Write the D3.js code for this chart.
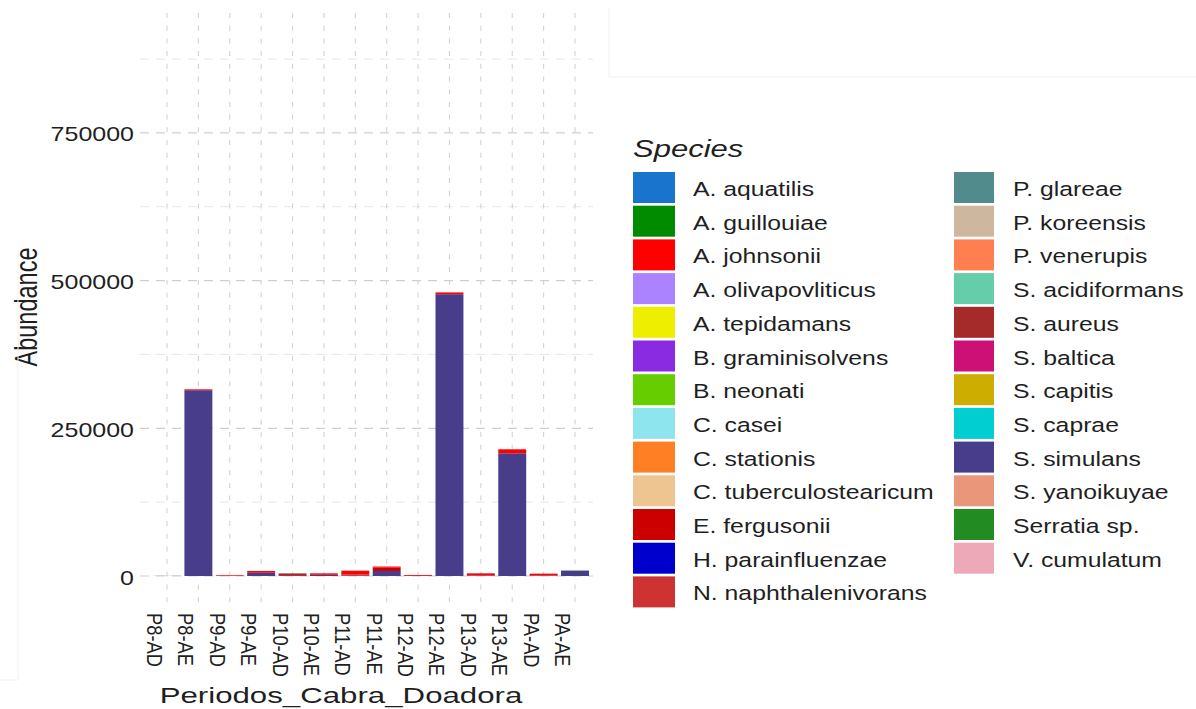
<!DOCTYPE html>
<html>
<head>
<meta charset="utf-8">
<script src="https://cdn.jsdelivr.net/npm/d3@7"></script>
<style>
  body { margin: 0; background: #fff; }
  text { font-family: "Liberation Sans", Arial, Helvetica, sans-serif; fill: #1f1f1f; }
</style>
</head>
<body>
<div id="chart"></div>
<script>
// categories on the x axis
const periods = ['P8-AD', 'P8-AE', 'P9-AD', 'P9-AE', 'P10-AD', 'P10-AE', 'P11-AD',
                 'P11-AE', 'P12-AD', 'P12-AE', 'P13-AD', 'P13-AE', 'PA-AD', 'PA-AE'];

// legend order (ggplot puts the first level on top of each stack)
const species = ['A. aquatilis', 'A. guillouiae', 'A. johnsonii', 'A. olivapovliticus',
  'A. tepidamans', 'B. graminisolvens', 'B. neonati', 'C. casei', 'C. stationis',
  'C. tuberculostearicum', 'E. fergusonii', 'H. parainfluenzae', 'N. naphthalenivorans',
  'P. glareae', 'P. koreensis', 'P. venerupis', 'S. acidiformans', 'S. aureus',
  'S. baltica', 'S. capitis', 'S. caprae', 'S. simulans', 'S. yanoikuyae',
  'Serratia sp.', 'V. cumulatum'];

const speciesColors = ['#1874CD', '#008B00', '#FF0000', '#AB82FF', '#EEEE00', '#8A2BE2',
  '#66CD00', '#8EE5EE', '#FF7F24', '#EEC591', '#CD0000', '#0000CD', '#CD3333',
  '#528B8B', '#CDB79E', '#FF7F50', '#66CDAA', '#A52A2A', '#CD1076', '#CDAD00',
  '#00CED1', '#483D8B', '#E9967A', '#228B22', '#EEA9B8'];

// abundances (species not listed are ~0)
const simulans    = [200, 314500, 0, 5500, 1500, 2000, 1000, 8500, 0, 477000, 1000, 207700, 1000, 8800];
const johnsonii   = [0, 1500, 1200, 3000, 2500, 2500, 6500, 2000, 1500, 3000, 3500, 6800, 3000, 0];
const fergusonii  = [0, 0, 0, 0, 0, 0, 1500, 5500, 0, 0, 0, 0, 0, 0];
const guillouiae  = [0, 0, 0, 0, 600, 0, 0, 0, 0, 0, 0, 0, 0, 0];
const glareae     = [0, 0, 0, 0, 0, 0, 0, 0, 0, 0, 0, 0, 0, 800];

const yTicks = [0, 250000, 500000, 750000];
const yMinor = [125000, 375000, 625000, 875000];

// build the table d3.stack wants
const known = {
  'S. simulans': simulans, 'A. johnsonii': johnsonii, 'E. fergusonii': fergusonii,
  'A. guillouiae': guillouiae, 'P. glareae': glareae
};
const table = periods.map((p, i) => {
  const row = { period: p };
  species.forEach(s => { row[s] = known[s] ? known[s][i] : 0; });
  return row;
});

const W = 1196, H = 709;
const panel = { left: 140, right: 593, top: 13, bottom: 603 };

const svg = d3.select('#chart').append('svg')
  .attr('width', W).attr('height', H);

svg.append('rect').attr('width', W).attr('height', H).attr('fill', '#fff');

const x = d3.scaleBand()
  .domain(periods)
  .range([151.3, 590.7])
  .paddingInner(0.11)
  .paddingOuter(0.055);

const y = d3.scaleLinear()
  .domain([-45700, 953000])
  .range([panel.bottom, panel.top]);

// grid lines
const grid = svg.append('g');
grid.selectAll('line.minor')
  .data(yMinor).enter().append('line')
  .attr('x1', panel.left).attr('x2', panel.right)
  .attr('y1', d => y(d)).attr('y2', d => y(d))
  .attr('stroke', '#e4e4e4').attr('stroke-width', 0.9)
  .attr('stroke-dasharray', '9,7');
grid.selectAll('line.major')
  .data(yTicks).enter().append('line')
  .attr('x1', panel.left).attr('x2', panel.right)
  .attr('y1', d => y(d)).attr('y2', d => y(d))
  .attr('stroke', '#cfcfcf').attr('stroke-width', 1.2)
  .attr('stroke-dasharray', '9,7');
grid.selectAll('line.vert')
  .data(periods).enter().append('line')
  .attr('x1', d => x(d) + x.bandwidth() / 2).attr('x2', d => x(d) + x.bandwidth() / 2)
  .attr('y1', panel.top).attr('y2', panel.bottom)
  .attr('stroke', '#d2d2d2').attr('stroke-width', 1.1)
  .attr('stroke-dasharray', '5,7.7');

// stacked bars (last level at the bottom)
const stack = d3.stack().keys(species.slice().reverse());
const color = d3.scaleOrdinal().domain(species).range(speciesColors);

svg.append('g')
  .selectAll('g')
  .data(stack(table)).enter().append('g')
  .attr('fill', d => color(d.key))
  .selectAll('rect')
  .data(d => d.filter(v => v[1] - v[0] > 0)).enter().append('rect')
  .attr('x', d => x(d.data.period))
  .attr('width', x.bandwidth())
  .attr('y', d => y(d[1]))
  .attr('height', d => y(d[0]) - y(d[1]));

// helper for the horizontally stretched text of the picture
function label(g, str, tx, ty, size, sx, rot, anchor) {
  return g.append('text')
    .attr('transform', `translate(${tx},${ty}) scale(${sx},1)` + (rot ? ` rotate(${rot})` : ''))
    .attr('font-size', size)
    .attr('text-anchor', anchor || 'start')
    .text(str);
}

// y axis
const yAxis = svg.append('g');
yTicks.forEach(t => label(yAxis, t, 134, y(t) + 8.5, 21, 1.19, 0, 'end'));
label(yAxis, 'Abundance', 37, 307, 23.5, 1.3, -90, 'middle');

// x axis
const xAxis = svg.append('g');
periods.forEach(p => label(xAxis, p, x(p) + x.bandwidth() / 2 - 20, 613, 18.3, 1.22, 90, 'start'));
label(xAxis, 'Periodos_Cabra_Doadora', 341, 703, 22, 1.42, 0, 'middle');

// legend
const legend = svg.append('g');
label(legend, 'Species', 633, 157, 23.5, 1.32, 0, 'start').attr('font-style', 'italic');
const rowH = 33.7;
species.forEach((s, i) => {
  const col = i < 13 ? 0 : 1;
  const row = col ? i - 13 : i;
  const kx = col ? 954 : 633;
  const kw = col ? 40 : 42;
  const tx = col ? 1013 : 693;
  const top = 172 + row * rowH;
  legend.append('rect')
    .attr('x', kx).attr('y', top)
    .attr('width', kw).attr('height', 31)
    .attr('fill', color(s));
  label(legend, s, tx, top + 24, 19.5, 1.27, 0, 'start');
});

// faint frame remnants visible in the picture
svg.append('path')
  .attr('d', 'M609,8V77H1196 M18,250V680H0')
  .attr('fill', 'none')
  .attr('stroke', '#f1f1f1').attr('stroke-width', 1);
</script>
</body>
</html>
